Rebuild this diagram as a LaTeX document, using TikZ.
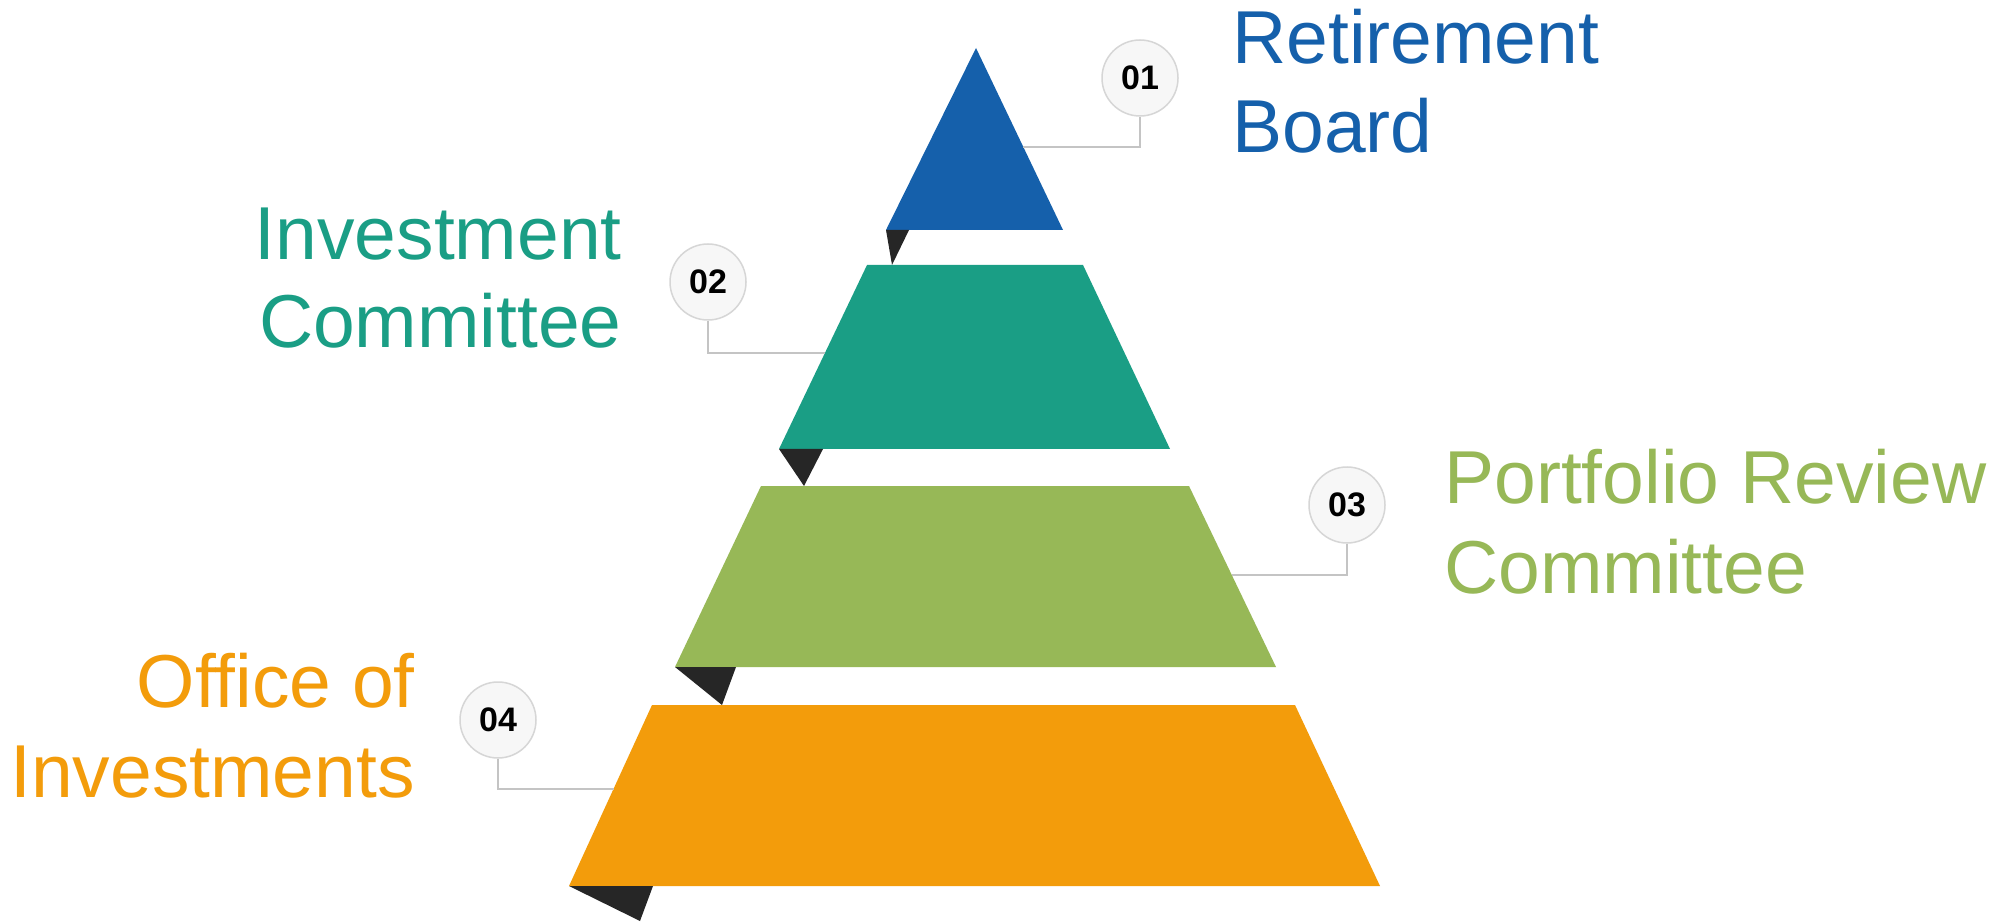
\documentclass[tikz,border=0pt]{standalone}
\usepackage{fontspec}
\setmainfont{Liberation Sans}
\begin{document}
\begin{tikzpicture}[x=0.5pt,y=-0.5pt,
  tierblue/.style={fill=rbBlue},
  tierteal/.style={fill=icTeal},
  tiergreen/.style={fill=prGreen},
  tierorange/.style={fill=oiOrange},
  foldtip/.style={fill=foldDark},
  badge/.style={circle,draw=badgeEdge,line width=0.75pt,fill=badgeFill,
    minimum size=38pt,inner sep=0pt,font=\fontsize{17}{17}\selectfont\bfseries,text=black},
  leader/.style={draw=leaderGray,line width=0.75pt},
  label/.style={inner sep=0pt,font=\fontsize{37.5}{44}\selectfont}
]
\definecolor{rbBlue}{HTML}{1560AB}
\definecolor{icTeal}{HTML}{1A9E85}
\definecolor{prGreen}{HTML}{97B857}
\definecolor{oiOrange}{HTML}{F39C0B}
\definecolor{foldDark}{HTML}{262626}
\definecolor{badgeEdge}{HTML}{D6D6D6}
\definecolor{badgeFill}{HTML}{F7F7F7}
\definecolor{leaderGray}{HTML}{C4C4C4}

% canvas
\fill[white] (0,0) rectangle (2000,924);

% pyramid tiers
\fill[tierblue]   (976,48) -- (1063,230) -- (886,230) -- cycle;
\fill[foldtip]    (886,230) -- (909,230) -- (892,265) -- cycle;
\fill[tierteal]   (867,265) -- (1083,265) -- (1170,449) -- (779,449) -- cycle;
\fill[foldtip]    (779,449) -- (823,449) -- (804,486) -- cycle;
\fill[tiergreen]  (761,486) -- (1189,486) -- (1276,667) -- (675,667) -- cycle;
\fill[foldtip]    (675,667) -- (736,667) -- (722,705) -- cycle;
\fill[tierorange] (652,705) -- (1295,705) -- (1380,886) -- (569,886) -- cycle;
\fill[foldtip]    (569,886) -- (653,886) -- (640,921) -- cycle;

% points where the leaders meet the tier edges
\coordinate (e1) at (1023,147);
\coordinate (e2) at (825,353);
\coordinate (e3) at (1232,575);
\coordinate (e4) at (614,789);

% number badges
\node[badge] (c1) at (1140,78)  {01};
\node[badge] (c2) at (708,282)  {02};
\node[badge] (c3) at (1347,505) {03};
\node[badge] (c4) at (498,720)  {04};

% leaders
\draw[leader] (c1.south) |- (e1);
\draw[leader] (c2.south) |- (e2);
\draw[leader] (c3.south) |- (e3);
\draw[leader] (c4.south) |- (e4);

% titles
\node[label,text=rbBlue,anchor=base west] (t1a) at (1232,64)  {Retirement};
\node[label,text=rbBlue,anchor=base west] (t1b) at (1232,153) {Board};
\node[label,text=icTeal,anchor=base east] (t2a) at (622,260)  {Investment};
\node[label,text=icTeal,anchor=base east] (t2b) at (622,348)  {Committee};
\node[label,text=prGreen,anchor=base west] (t3a) at (1444,503) {Portfolio Review};
\node[label,text=prGreen,anchor=base west] (t3b) at (1444,593) {Committee};
\node[label,text=oiOrange,anchor=base east] (t4a) at (415,707) {Office of};
\node[label,text=oiOrange,anchor=base east] (t4b) at (415,797) {Investments};
\end{tikzpicture}
\end{document}
